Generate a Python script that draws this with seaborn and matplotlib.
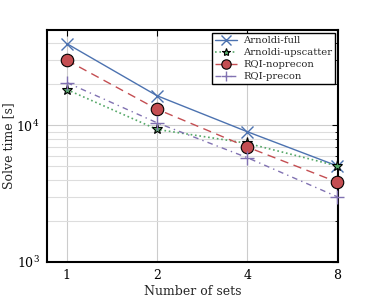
import numpy as np
import pandas as pd
import seaborn as sns
import matplotlib
matplotlib.use("Agg")
import matplotlib.pyplot as plt
from matplotlib.ticker import FixedLocator, FixedFormatter, LogLocator, NullFormatter

sets = [1, 2, 4, 8]
arnoldi_full = [39700, 16500, 9000, 5050]
arnoldi_upscatter = [18300, 9350, 7400, 5050]
rqi_noprecon = [30000, 13150, 6950, 3840]
rqi_precon = [20600, 10450, 5810, 3000]
series_names = ["Arnoldi-full", "Arnoldi-upscatter", "RQI-noprecon", "RQI-precon"]
xticklabels = ["1", "2", "4", "8"]

sns.set_theme(style="white")
plt.rcParams['font.family'] = ['DejaVu Serif']
plt.rcParams['mathtext.fontset'] = 'dejavuserif'

fig = plt.figure(figsize=(3.75, 3.0), dpi=100)
ax = fig.add_axes([0.1245, 0.127, 0.777, 0.773])

colors = ["#4C72B0", "#55A868", "#C44E52", "#8172B2"]
styles = [
    dict(marker="x", linestyle="-", markersize=9, mew=1.0, mec="#4C72B0", lw=1.0),
    dict(marker="*", linestyle=":", markersize=8, mew=0.8, mec="black", lw=1.2),
    dict(marker="o", linestyle=(0, (6, 4)), markersize=9, mew=0.8, mec="black", lw=1.0),
    dict(marker="+", linestyle=(0, (4, 3, 1, 3)), markersize=10, mew=1.0, mec="#8172B2", lw=1.0),
]
values = [arnoldi_full, arnoldi_upscatter, rqi_noprecon, rqi_precon]

for name, vals, c, st in zip(series_names, values, colors, styles):
    df = pd.DataFrame({"sets": sets, "time": vals})
    sns.lineplot(data=df, x="sets", y="time", ax=ax, color=c, label=name,
                 clip_on=False, zorder=3, **st)

ax.set_xscale("log", base=2)
ax.set_yscale("log")
ax.set_xlim(0.856, 8.05)
ax.set_ylim(1e3, 5e4)
ax.xaxis.set_major_locator(FixedLocator(sets))
ax.xaxis.set_major_formatter(FixedFormatter(xticklabels))
ax.xaxis.set_minor_locator(FixedLocator([]))
ax.yaxis.set_major_locator(LogLocator(base=10))
ax.yaxis.set_minor_locator(LogLocator(base=10, subs=np.arange(2, 10)))
ax.yaxis.set_minor_formatter(NullFormatter())

ax.grid(True, which="major", color="#cccccc", lw=0.8)
ax.grid(True, which="minor", axis="y", color="#dddddd", lw=0.8)
ax.set_axisbelow(True)
for sp in ax.spines.values():
    sp.set_color("black")
    sp.set_linewidth(1.5)
ax.tick_params(which="both", direction="in", top=True, right=True, colors="black", labelsize=9)
ax.tick_params(which="major", length=4, width=0.8)
ax.tick_params(which="minor", length=2, width=0.6)
ax.tick_params(axis="x", pad=5)
ax.tick_params(axis="y", pad=5)

ax.set_xlabel("Number of sets", fontsize=9, labelpad=2)
ax.set_ylabel("Solve time [s]", fontsize=9, labelpad=1)

leg = ax.legend(loc="upper right", fontsize=7.2, frameon=True, fancybox=False,
                edgecolor="black", framealpha=1, labelspacing=0.3, markerscale=0.75,
                handlelength=2.2, borderpad=0.3, borderaxespad=0.3, handletextpad=0.6)
leg.get_frame().set_linewidth(1.0)

fig.savefig("out.png", dpi=100)
